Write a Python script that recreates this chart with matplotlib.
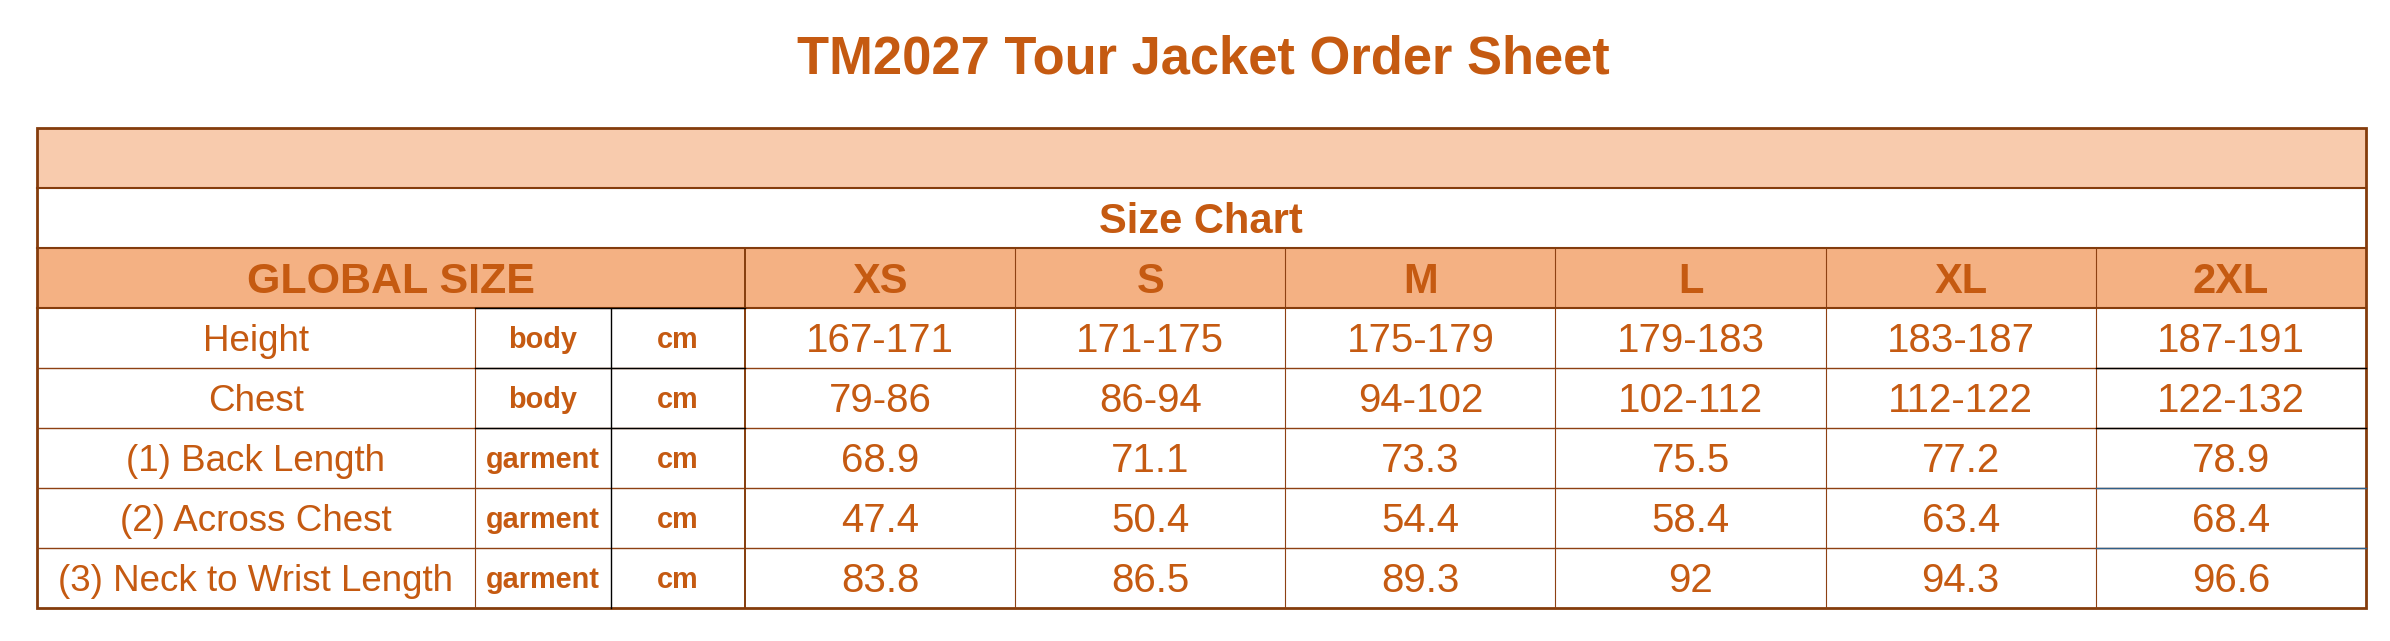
import matplotlib.pyplot as plt
from matplotlib.patches import Rectangle

# --- chart data ---
title = "TM2027 Tour Jacket Order Sheet"
subtitle = "Size Chart"
first_header = "GLOBAL SIZE"
sizes = ["XS", "S", "M", "L", "XL", "2XL"]
measures = ["Height", "Chest", "(1) Back Length", "(2) Across Chest",
            "(3) Neck to Wrist Length"]
kinds = ["body", "body", "garment", "garment", "garment"]
units = ["cm", "cm", "cm", "cm", "cm"]
height = ["167-171", "171-175", "175-179", "179-183", "183-187", "187-191"]
chest = ["79-86", "86-94", "94-102", "102-112", "112-122", "122-132"]
back_length = [68.9, 71.1, 73.3, 75.5, 77.2, 78.9]
across_chest = [47.4, 50.4, 54.4, 58.4, 63.4, 68.4]
neck_to_wrist = [83.8, 86.5, 89.3, 92, 94.3, 96.6]

rows = [height, chest,
        [f"{v:g}" for v in back_length],
        [f"{v:g}" for v in across_chest],
        [f"{v:g}" for v in neck_to_wrist]]

# --- layout (pixels) ---
W, H = 2390, 641
TXT = "#C55A11"
DARK = "#843C0C"
LINE = "#8E4113"
PEACH = "#F8CBAD"
HEAD = "#F4B183"
BLUE = "#2F5F8A"

left, right = 36.6, 2366
label_x = [left, 475, 610.7, 745]
col_x = [745 + i * (right - 745) / 6 for i in range(7)]
y_top, y_r1, y_r2, y_head = 128, 188, 248, 308
row_h = 60
row_y = [y_head + i * row_h for i in range(6)]

fig = plt.figure(figsize=(W / 100, H / 100), dpi=100)
ax = fig.add_axes([0, 0, 1, 1])
ax.set_xlim(0, W)
ax.set_ylim(H, 0)
ax.axis("off")

plt.rcParams['font.family'] = ['Liberation Sans', 'DejaVu Sans']


def put(x, yc, s, size, bold=False):
    # baseline placed so that cap height is centred on yc
    cap = 0.716 * size * 100 / 72
    ax.text(x, yc + cap / 2, s, ha="center", va="baseline", fontsize=size,
            color=TXT, fontweight="bold" if bold else "normal")


# fills
ax.add_patch(Rectangle((left, y_top), right - left, y_r1 - y_top, fc=PEACH, ec="none"))
ax.add_patch(Rectangle((left, y_r2), right - left, y_head - y_r2, fc=HEAD, ec="none"))

# thin grid lines in the data area
for y in row_y[1:-1]:
    ax.plot([left, right], [y, y], color=LINE, lw=1.0)
for x in [label_x[1]] + col_x[1:-1]:
    ax.plot([x, x], [y_head if x == label_x[1] else y_r2, row_y[-1]], color=LINE, lw=0.8)
ax.plot([col_x[0], col_x[0]], [y_r2, row_y[-1]], color=DARK, lw=1.4)

# black and blue odd borders
ax.plot([label_x[2], label_x[2]], [y_head, row_y[-1]], color="black", lw=1.0)
for y in row_y[1:3]:
    ax.plot([label_x[1], label_x[3]], [y, y], color="black", lw=1.0)
    ax.plot([col_x[5], col_x[6]], [y, y], color="black", lw=1.0)
for y in row_y[3:5]:
    ax.plot([col_x[5], col_x[6]], [y, y], color=BLUE, lw=1.0)

# thick horizontal rules
for y in [y_r1, y_r2, y_head]:
    ax.plot([left, right], [y, y], color=DARK, lw=1.5)
ax.plot([label_x[1], label_x[3]], [y_head, y_head], color="black", lw=1.0)

# outer border
ax.add_patch(Rectangle((left, y_top), right - left, row_y[-1] - y_top,
                       fc="none", ec=DARK, lw=2.0))

# texts
ax.text((left + right) / 2 + 2, 73, title, ha="center", va="baseline",
        fontsize=37.8, color=TXT, fontweight="bold")
put((left + right) / 2, (y_r2 + y_r1) / 2, subtitle, 30, bold=True)
put((label_x[0] + label_x[3]) / 2, (y_r2 + y_head) / 2, first_header, 31, bold=True)
for i, s in enumerate(sizes):
    put((col_x[i] + col_x[i + 1]) / 2, (y_r2 + y_head) / 2, s, 30, bold=True)

for r in range(len(measures)):
    yc = (row_y[r] + row_y[r + 1]) / 2
    put((label_x[0] + label_x[1]) / 2, yc, measures[r], 26.5)
    put((label_x[1] + label_x[2]) / 2, yc, kinds[r], 20.8, bold=True)
    put((label_x[2] + label_x[3]) / 2, yc, units[r], 20.8, bold=True)
    for i in range(len(sizes)):
        put((col_x[i] + col_x[i + 1]) / 2, yc, rows[r][i], 29)

fig.savefig("out.png", dpi=100, facecolor="white")
